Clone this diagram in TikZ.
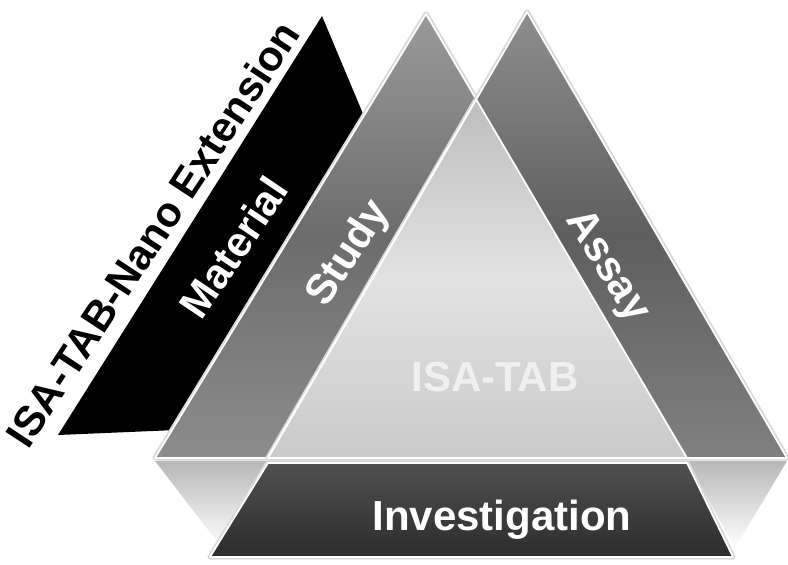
\documentclass[tikz,border=0pt]{standalone}
\usepackage{fontspec}
\setmainfont{Liberation Sans}
\definecolor{studyTop}{HTML}{9A9A9A}
\definecolor{studyMid}{HTML}{6C6C6C}
\definecolor{studyBot}{HTML}{8C8C8C}
\definecolor{assayTop}{HTML}{8E8E8E}
\definecolor{assayMid}{HTML}{5E5E5E}
\definecolor{assayBot}{HTML}{808080}
\definecolor{innerTop}{HTML}{BDBDBD}
\definecolor{innerMid}{HTML}{E2E2E2}
\definecolor{innerBot}{HTML}{CACACA}
\definecolor{invTop}{HTML}{505050}
\definecolor{invBot}{HTML}{2C2C2C}
\definecolor{isatab}{HTML}{F0F0F0}
\begin{document}
\begin{tikzpicture}[x=0.75pt,y=-0.75pt,
  lbl/.style={font=\fontsize{31.5}{36}\selectfont\bfseries, inner sep=0pt},
  rim/.style={draw=white, line width=1.3pt, line join=round},
  halo/.style={preaction={draw=black!15, line width=4pt, line join=round}}]
\useasboundingbox (0,0) rectangle (788,564);
% coordinates
\coordinate (Sa) at (426,14);
\coordinate (Sl) at (155,458);
\coordinate (Sr) at (687,458);
\coordinate (Aa) at (527,12);
\coordinate (Al) at (268,458);
\coordinate (Ar) at (787,458);
% black extension band
\fill[black] (322,16) -- (395,190) -- (200,429) -- (58,435) -- cycle;
% reflections
\shade[top color=black!28, bottom color=white] (155,461) -- (268,461) -- (222,548) -- cycle;
\shade[top color=black!28, bottom color=white] (687,461) -- (787,461) -- (735,548) -- cycle;
% study and assay triangles
\path[halo, rim, top color=studyTop, bottom color=studyBot, middle color=studyMid] (Sa) -- (Sl) -- (Sr) -- cycle;
\path[halo, rim, top color=assayTop, bottom color=assayBot, middle color=assayMid] (Aa) -- (Al) -- (Ar) -- cycle;
% inner ISA-TAB triangle
\coordinate (Ia) at (intersection of Sa--Sr and Aa--Al);
\path[rim, top color=innerTop, bottom color=innerBot, middle color=innerMid] (Ia) -- (Al) -- (Sr) -- cycle;
% investigation base
\path[halo, rim, top color=invTop, bottom color=invBot] (268,463) -- (687,463) -- (733,557) -- (210,557) -- cycle;
% labels
\node[lbl, anchor=base, rotate=56.7] (ext) at (165,242) {ISA-TAB-Nano Extension};
\node[lbl, white, anchor=base, rotate=56] (mat) at (246,256) {Material};
\node[lbl, white, anchor=base, rotate=57] (stu) at (358,260) {Study};
\node[lbl, white, anchor=base, rotate=-58.5] (ass) at (598,272) {Assay};
\node[lbl, text=isatab, anchor=base] (isa) at (495,391) {ISA-TAB};
\node[lbl, white, anchor=base] (inv) at (502,530) {Investigation};
\end{tikzpicture}
\end{document}
